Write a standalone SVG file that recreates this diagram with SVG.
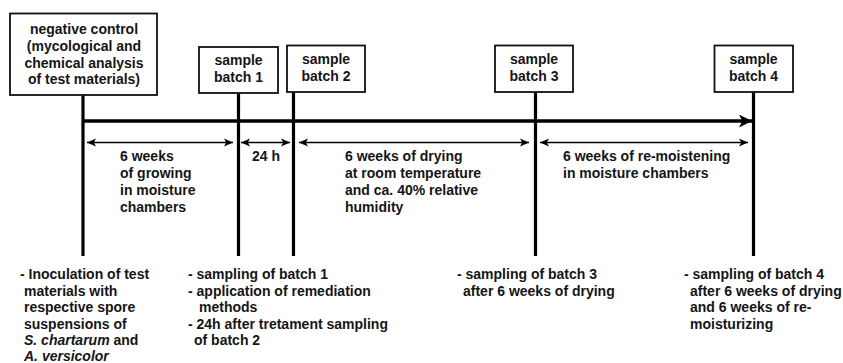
<svg xmlns="http://www.w3.org/2000/svg" width="843" height="363" viewBox="0 0 843 363">
<defs>
<style>
text{font-family:"Liberation Sans",Arial,sans-serif;font-size:14px;font-weight:bold;fill:#151515}
.c{text-anchor:middle}
.box{fill:#fff;stroke:#111;stroke-width:1.8}
.v{stroke:#000;stroke-width:3.2;fill:none}
.main{stroke:#000;stroke-width:3.4;fill:none}
.thin{stroke:#000;stroke-width:1.4;fill:none}
.it{font-style:italic}
</style>
<marker id="big" viewBox="0 0 12 12" markerUnits="userSpaceOnUse" markerWidth="13" markerHeight="13" refX="12" refY="6" orient="auto">
<path d="M0,0 L12,6 L0,12 L3,6 Z" fill="#000"/>
</marker>
<marker id="sm" viewBox="0 0 10 10" markerUnits="userSpaceOnUse" markerWidth="9" markerHeight="9" refX="10" refY="5" orient="auto-start-reverse">
<path d="M0,0.5 L10,5 L0,9.5 L2.5,5 Z" fill="#000"/>
</marker>
</defs>
<rect width="843" height="363" fill="#fff"/>

<g id="connectors">
<line class="v" x1="83" y1="95" x2="83" y2="256"/>
<line class="v" x1="238.5" y1="93" x2="238.5" y2="256"/>
<line class="v" x1="293.5" y1="92" x2="293.5" y2="256"/>
<line class="v" x1="535.5" y1="92" x2="535.5" y2="256"/>
<line class="v" x1="753.5" y1="92" x2="753.5" y2="256"/>
<line class="main" x1="83" y1="121" x2="752" y2="121" marker-end="url(#big)"/>
<line class="thin" x1="87" y1="142.5" x2="233" y2="142.5" marker-start="url(#sm)" marker-end="url(#sm)"/>
<line class="thin" x1="241" y1="142.5" x2="290" y2="142.5" marker-start="url(#sm)" marker-end="url(#sm)"/>
<line class="thin" x1="299" y1="142.5" x2="529" y2="142.5" marker-start="url(#sm)" marker-end="url(#sm)"/>
<line class="thin" x1="540" y1="142.5" x2="748" y2="142.5" marker-start="url(#sm)" marker-end="url(#sm)"/>
</g>

<g id="negative-control">
<rect class="box" x="10" y="13.5" width="147" height="81.5"/>
<text class="c" x="84" y="34">negative control</text>
<text class="c" x="84" y="51">(mycological and</text>
<text class="c" x="84" y="67.5">chemical analysis</text>
<text class="c" x="84" y="84">of test materials)</text>
</g>

<g id="sample-batch-1">
<rect class="box" x="199" y="47" width="79" height="46"/>
<text class="c" x="238.5" y="65">sample</text>
<text class="c" x="238.5" y="82">batch 1</text>
</g>

<g id="sample-batch-2">
<rect class="box" x="287" y="45.5" width="78" height="46.5"/>
<text class="c" x="326" y="64">sample</text>
<text class="c" x="326" y="81">batch 2</text>
</g>

<g id="sample-batch-3">
<rect class="box" x="495" y="45.5" width="78" height="46.5"/>
<text class="c" x="534" y="64">sample</text>
<text class="c" x="534" y="81">batch 3</text>
</g>

<g id="sample-batch-4">
<rect class="box" x="714.5" y="45.5" width="78.5" height="46.5"/>
<text class="c" x="753.5" y="64">sample</text>
<text class="c" x="753.5" y="81">batch 4</text>
</g>

<g id="interval-labels">
<text x="120" y="161">6 weeks</text>
<text x="120" y="178">of growing</text>
<text x="120" y="195">in moisture</text>
<text x="120" y="212">chambers</text>
<text x="252" y="161">24 h</text>
<text x="345" y="161">6 weeks of drying</text>
<text x="345" y="178">at room temperature</text>
<text x="345" y="195">and ca. 40% relative</text>
<text x="345" y="212">humidity</text>
<text x="563" y="161">6 weeks of re-moistening</text>
<text x="563" y="178">in moisture chambers</text>
</g>

<g id="step-notes">
<text x="20" y="279">- Inoculation of test</text>
<text x="24" y="295.5">materials with</text>
<text x="24" y="312">respective spore</text>
<text x="24" y="328.5">suspensions of</text>
<text x="24" y="345"><tspan class="it">S. chartarum</tspan> and</text>
<text x="24" y="361" class="it">A. versicolor</text>

<text x="188" y="279">- sampling of batch 1</text>
<text x="188" y="295.5">- application of remediation</text>
<text x="199" y="312">methods</text>
<text x="188" y="328.5">- 24h after tretament sampling</text>
<text x="194" y="345">of batch 2</text>

<text x="457" y="279">- sampling of batch 3</text>
<text x="463" y="295.5">after 6 weeks of drying</text>

<text x="684" y="279">- sampling of batch 4</text>
<text x="690" y="295.5">after 6 weeks of drying</text>
<text x="690" y="312">and 6 weeks of re-</text>
<text x="690" y="328.5">moisturizing</text>
</g>
</svg>
